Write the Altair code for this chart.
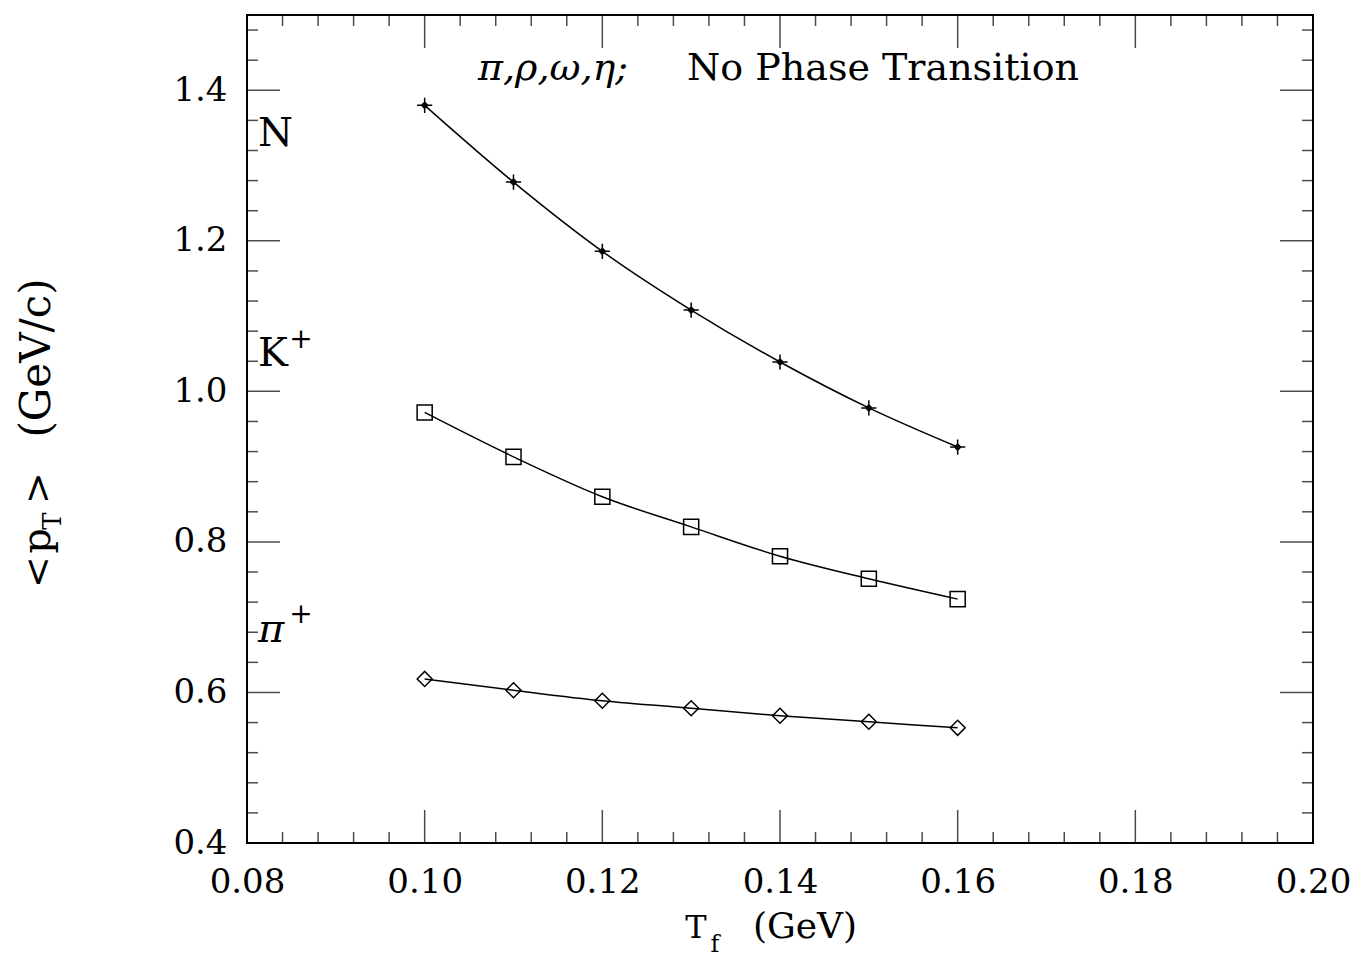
import altair as alt
import pandas as pd
import numpy as np

# ---- data ----
tf = [0.10, 0.11, 0.12, 0.13, 0.14, 0.15, 0.16]
pt_N = [1.380, 1.278, 1.186, 1.108, 1.039, 0.978, 0.926]
pt_K = [0.972, 0.913, 0.860, 0.820, 0.781, 0.751, 0.724]
pt_pi = [0.618, 0.603, 0.589, 0.579, 0.569, 0.561, 0.553]

species = ["N", "K", "pi"]

x_major = [0.08, 0.10, 0.12, 0.14, 0.16, 0.18, 0.20]
y_major = [0.4, 0.6, 0.8, 1.0, 1.2, 1.4]
x_minor = [round(v, 3) for v in np.arange(0.08, 0.2001, 0.004) if min(abs(v - m) for m in x_major) > 1e-6]
y_minor = [round(v, 2) for v in np.arange(0.4, 1.5001, 0.04) if min(abs(v - m) for m in y_major + [1.5]) > 1e-6]

rows = []
for name, vals in zip(species, [pt_N, pt_K, pt_pi]):
    for t, v in zip(tf, vals):
        rows.append({"species": name, "tf": t, "pt": v})
df = pd.DataFrame(rows)

W, H = 1066, 828
XD = [0.08, 0.20]
YD = [0.4, 1.5]
FONT = "DejaVu Serif"

xs = alt.Scale(domain=XD, nice=False, zero=False)
ys = alt.Scale(domain=YD, nice=False, zero=False)

star = "M-1,0L1,0M0,-1L0,1M0,-0.4L0.4,0L0,0.4L-0.4,0Z"

base = alt.Chart(df)
lines = base.mark_line(color="black", strokeWidth=1.5, interpolate="monotone").encode(
    x=alt.X("tf:Q", scale=xs,
            axis=alt.Axis(values=x_major, format=".2f", ticks=False, domain=False, grid=False,
                          labelFont=FONT, labelFontSize=34, labelColor="black",
                          labelPadding=22, title=None, labelFlush=False)),
    y=alt.Y("pt:Q", scale=ys,
            axis=alt.Axis(values=y_major, format=".1f", ticks=False, domain=False, grid=False,
                          labelFont=FONT, labelFontSize=34, labelColor="black",
                          labelPadding=20, title=None, labelFlush=False)),
    detail="species:N",
)
points = base.mark_point(filled=False, color="black", strokeWidth=1.5, opacity=1).encode(
    x=alt.X("tf:Q", scale=xs),
    y=alt.Y("pt:Q", scale=ys),
    shape=alt.Shape("species:N", scale=alt.Scale(domain=species, range=[star, "square", "diamond"]), legend=None),
    size=alt.Size("species:N", scale=alt.Scale(domain=species, range=[230, 225, 270]), legend=None),
)


def ticks(vals, axis, side, length):
    d = pd.DataFrame({"v": vals})
    if axis == "x":
        pos = YD[0] if side == "low" else YD[1]
        off = -length / 2 if side == "low" else length / 2
        return alt.Chart(d).mark_tick(orient="vertical", color="black", thickness=1.5, size=length,
                                      yOffset=off).encode(
            x=alt.X("v:Q", scale=xs), y=alt.Y(datum=pos, scale=ys))
    else:
        pos = XD[0] if side == "low" else XD[1]
        off = length / 2 if side == "low" else -length / 2
        return alt.Chart(d).mark_tick(orient="horizontal", color="black", thickness=1.5, size=length,
                                      xOffset=off).encode(
            y=alt.Y("v:Q", scale=ys), x=alt.X(datum=pos, scale=xs))


tick_layers = []
for side in ["low", "high"]:
    tick_layers.append(ticks(x_major, "x", side, 33))
    tick_layers.append(ticks(x_minor, "x", side, 11))
    tick_layers.append(ticks(y_major, "y", side, 33))
    tick_layers.append(ticks(y_minor, "y", side, 11))


def txt(text, x, y, size, align="left", baseline="alphabetic", angle=0, style="normal"):
    return alt.Chart(alt.Data(values=[{}])).mark_text(
        text=text, font=FONT, fontSize=size, align=align, baseline=baseline,
        angle=angle, fontStyle=style, color="black", clip=False
    ).encode(x=alt.value(x), y=alt.value(y))


texts = [
    # top annotation
    txt("π,ρ,ω,η;", 231, 65, 38, align="left", style="italic"),
    txt("No Phase Transition", 440, 65, 38, align="left"),
    # species labels
    txt("N", 11, 131, 40),
    txt("K", 11, 351, 40),
    txt("+", 54, 333, 28, align="center"),
    txt("π", 11, 627, 40, style="italic"),
    txt("+", 54, 608, 28, align="center"),
    # x title
    txt("T", 449, 923, 32, align="center"),
    txt("f", 468, 937, 24, align="center"),
    txt("(GeV)", 558, 923, 36, align="center"),
    # y title (rotated)
    txt("<", -197, 557, 38, align="center", angle=270),
    txt("p", -197, 526, 40, align="center", angle=270),
    txt("T", -186, 506, 26, align="center", angle=270),
    txt(">", -197, 473, 38, align="center", angle=270),
    txt("(GeV/c)", -197, 343, 42, align="center", angle=270),
]

chart = alt.layer(lines, points, *tick_layers, *texts).properties(
    width=W, height=H,
    autosize=alt.AutoSizeParams(type="none"),
    padding={"left": 247, "top": 15, "right": 46, "bottom": 120},
    background="white",
).configure_view(stroke="black", strokeWidth=2)

chart.save("out.html", embed_options={"renderer": "svg", "actions": False})
